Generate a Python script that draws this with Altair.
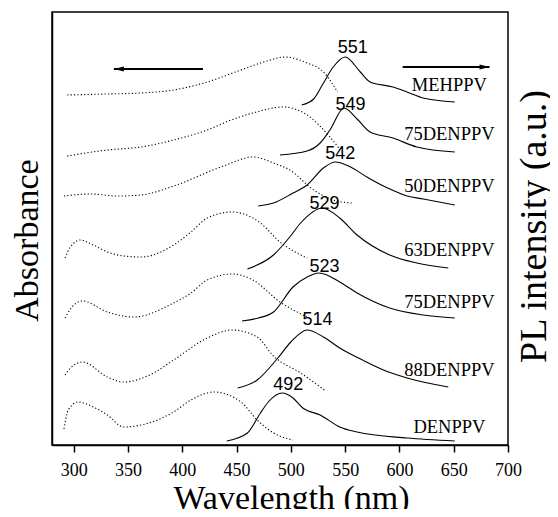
import altair as alt
import pandas as pd

# ---- data (wavelength nm, arbitrary stacked intensity units) ----
MEHPPV_ABS_WL = [294, 330, 362, 392, 420, 454, 475, 495, 515, 530, 543]
MEHPPV_ABS_Y = [350, 351, 352, 355, 362, 375, 383, 388, 382, 373, 353]
MEHPPV_PL_WL = [510, 521, 530, 539, 550, 564, 573, 594, 607, 622, 651]
MEHPPV_PL_Y = [340, 346, 362, 378, 388, 373, 363, 358, 353, 347, 343]

D75A_ABS_WL = [294, 331, 362, 392, 423, 445, 465, 493, 515, 536, 545]
D75A_ABS_Y = [289, 295, 298, 305, 315, 325, 332, 338, 330, 308, 296]
D75A_PL_WL = [490, 515, 527, 536, 549, 561, 573, 594, 616, 651]
D75A_PL_Y = [290, 294, 302, 315, 337, 326, 313, 307, 298, 293]

D50_ABS_WL = [291, 316, 340, 362, 392, 438, 465, 484, 499, 521, 539, 556]
D50_ABS_Y = [249, 251, 249, 250, 259, 279, 288, 282, 275, 255, 245, 242]
D50_PL_WL = [470, 484, 502, 515, 530, 541, 555, 570, 589, 607, 622, 651]
D50_PL_Y = [239, 242, 252, 260, 277, 283, 278, 268, 257, 249, 246, 240]

D63_ABS_WL = [292, 297, 306, 318, 331, 346, 362, 392, 408, 423, 446, 465, 472, 490, 504, 515]
D63_ABS_Y = [187, 198, 205, 200, 193, 189, 188, 200, 213, 227, 233, 227, 222, 203, 193, 187]
D63_PL_WL = [460, 484, 499, 509, 529, 545, 561, 591, 616, 645]
D63_PL_Y = [176, 190, 208, 222, 237, 227, 210, 190, 182, 177]

D75B_ABS_WL = [292, 297, 308, 331, 355, 392, 408, 423, 446, 465, 490, 515]
D75B_ABS_Y = [127, 136, 144, 133, 128, 142, 152, 165, 171, 165, 143, 128]
D75B_PL_WL = [455, 470, 484, 502, 515, 526, 545, 561, 591, 622, 651]
D75B_PL_Y = [124, 127, 133, 158, 168, 172, 163, 152, 137, 130, 127]

D88_ABS_WL = [292, 297, 308, 331, 346, 370, 392, 423, 446, 469, 484, 509, 532]
D88_ABS_Y = [70, 77, 83, 68, 63, 70, 85, 107, 115, 108, 89, 72, 54]
D88_PL_WL = [451, 469, 488, 500, 515, 530, 545, 566, 590, 607, 645]
D88_PL_Y = [57, 65, 87, 103, 115, 108, 97, 85, 73, 67, 58]

DEN_ABS_WL = [291, 295, 304, 318, 331, 346, 362, 392, 408, 429, 454, 469, 484, 502]
DEN_ABS_Y = [16, 35, 43, 38, 30, 18, 20, 33, 45, 53, 43, 25, 12, 5]
DEN_PL_WL = [441, 460, 472, 480, 492, 502, 511, 527, 545, 561, 607, 651]
DEN_PL_Y = [4, 12, 32, 44, 52, 47, 37, 30, 18, 13, 7, 4]

PEAK_TEXT = ["551", "549", "542", "529", "523", "514", "492"]
PEAK_WL = [557, 555, 545.5, 531, 531, 524.5, 497.7]
PEAK_Y = [397, 340, 291, 241, 178, 125, 60]

NAME_TEXT = ["MEHPPV", "75DENPPV", "50DENPPV", "63DENPPV", "75DENPPV", "88DENPPV", "DENPPV"]
NAME_WL = [646, 646, 646, 646, 646, 646, 646]
NAME_Y = [360, 311, 259, 195, 143, 75, 18]

ARROW_L = [337, 419, 376]   # x_head, x_tail, y
ARROW_R = [683, 603, 378]   # x_head, x_tail, y

X_TICKS = [300, 350, 400, 450, 500, 550, 600, 650, 700]

# ---- build table ----
curves = [
    ("MEHPPV", "abs", MEHPPV_ABS_WL, MEHPPV_ABS_Y), ("MEHPPV", "pl", MEHPPV_PL_WL, MEHPPV_PL_Y),
    ("75A", "abs", D75A_ABS_WL, D75A_ABS_Y), ("75A", "pl", D75A_PL_WL, D75A_PL_Y),
    ("50", "abs", D50_ABS_WL, D50_ABS_Y), ("50", "pl", D50_PL_WL, D50_PL_Y),
    ("63", "abs", D63_ABS_WL, D63_ABS_Y), ("63", "pl", D63_PL_WL, D63_PL_Y),
    ("75B", "abs", D75B_ABS_WL, D75B_ABS_Y), ("75B", "pl", D75B_PL_WL, D75B_PL_Y),
    ("88", "abs", D88_ABS_WL, D88_ABS_Y), ("88", "pl", D88_PL_WL, D88_PL_Y),
    ("DEN", "abs", DEN_ABS_WL, DEN_ABS_Y), ("DEN", "pl", DEN_PL_WL, DEN_PL_Y),
]
rows = []
for s, k, wl, yv in curves:
    for a, b in zip(wl, yv):
        rows.append({"key": s + "_" + k, "kind": k, "wl": a, "v": b})
df = pd.DataFrame(rows)

peaks = pd.DataFrame({"t": PEAK_TEXT, "wl": PEAK_WL, "v": PEAK_Y})
names = pd.DataFrame({"t": NAME_TEXT, "wl": NAME_WL, "v": NAME_Y})
arrows = pd.DataFrame({
    "head": [ARROW_L[0], ARROW_R[0]],
    "tail": [ARROW_L[1], ARROW_R[1]],
    "v": [ARROW_L[2], ARROW_R[2]],
    "dir": ["L", "R"],
})

XS = alt.Scale(domain=[280, 700], nice=False, zero=False)
YS = alt.Scale(domain=[0, 433], nice=False, zero=False)

SERIF = "Liberation Serif, Times New Roman, serif"

x_axis = alt.Axis(
    values=X_TICKS, grid=False, tickSize=7, tickWidth=1.5, tickColor="black",
    domainColor="black", domainWidth=1.5, labelFont=SERIF, labelFontSize=18,
    labelColor="black", labelBaseline="alphabetic", labelPadding=23, labelFlush=False,
    title="Wavelength (nm)", titleFont=SERIF, titleFontSize=34,
    titleFontWeight="normal", titleColor="black", titleX=239, titleY=63,
    titleBaseline="alphabetic", titleAlign="center",
)
y_left = alt.Axis(
    grid=False, ticks=False, labels=False, domainColor="black", domainWidth=1.5,
    title="Absorbance", titleFont=SERIF, titleFontSize=34,
    titleFontWeight="normal", titleColor="black", titleAngle=270, titleX=-15,
    titleY=228, titleBaseline="alphabetic", titleAlign="center",
)
y_right = alt.Axis(
    orient="right", grid=False, ticks=False, labels=False, domain=False,
    title="PL intensity (a.u.)", titleFont=SERIF, titleFontSize=38,
    titleFontWeight="normal", titleColor="black", titleAngle=270, titleX=37,
    titleY=214, titleBaseline="alphabetic", titleAlign="center",
)

absl = alt.Chart(df).transform_filter(alt.datum.kind == "abs").mark_line(
    interpolate="monotone", color="black", strokeWidth=1.1, strokeDash=[1.2, 2.2]
).encode(
    x=alt.X("wl:Q", scale=XS, axis=x_axis),
    y=alt.Y("v:Q", scale=YS, axis=y_left),
    detail="key:N",
)

pll = alt.Chart(df).transform_filter(alt.datum.kind == "pl").mark_line(
    interpolate="monotone", color="black", strokeWidth=1.1
).encode(
    x=alt.X("wl:Q", scale=XS),
    y=alt.Y("v:Q", scale=YS, axis=y_right),
    detail="key:N",
)

peak_txt = alt.Chart(peaks).mark_text(
    font="Liberation Sans", fontSize=18, color="black", align="center", baseline="middle"
).encode(x=alt.X("wl:Q", scale=XS), y=alt.Y("v:Q", scale=YS), text="t:N")

name_txt = alt.Chart(names).mark_text(
    font=SERIF, fontSize=18.5, color="black", align="center", baseline="middle"
).encode(x=alt.X("wl:Q", scale=XS), y=alt.Y("v:Q", scale=YS), text="t:N")

arrow_line = alt.Chart(arrows).mark_rule(color="black", strokeWidth=1.8).encode(
    x=alt.X("head:Q", scale=XS), x2="tail:Q", y=alt.Y("v:Q", scale=YS)
)
head_l = alt.Chart(arrows).transform_filter(alt.datum.dir == "L").mark_point(
    shape="M0,0L2,-0.5L2,0.5Z", filled=True, size=100, color="black", opacity=1
).encode(x=alt.X("head:Q", scale=XS), y=alt.Y("v:Q", scale=YS))
head_r = alt.Chart(arrows).transform_filter(alt.datum.dir == "R").mark_point(
    shape="M0,0L-2,-0.5L-2,0.5Z", filled=True, size=100, color="black", opacity=1
).encode(x=alt.X("head:Q", scale=XS), y=alt.Y("v:Q", scale=YS))

left_layer = alt.layer(absl, peak_txt, name_txt, arrow_line, head_l, head_r)
chart = alt.layer(left_layer, pll).resolve_scale(y="independent").properties(
    width=456, height=433,
    autosize=alt.AutoSizeParams(type="none"),
    padding={"left": 44, "top": 4, "right": 42, "bottom": 64},
    background="white",
).configure_view(stroke="black", strokeWidth=1.5)

chart.save("out.html", embed_options={"renderer": "svg", "actions": False})
